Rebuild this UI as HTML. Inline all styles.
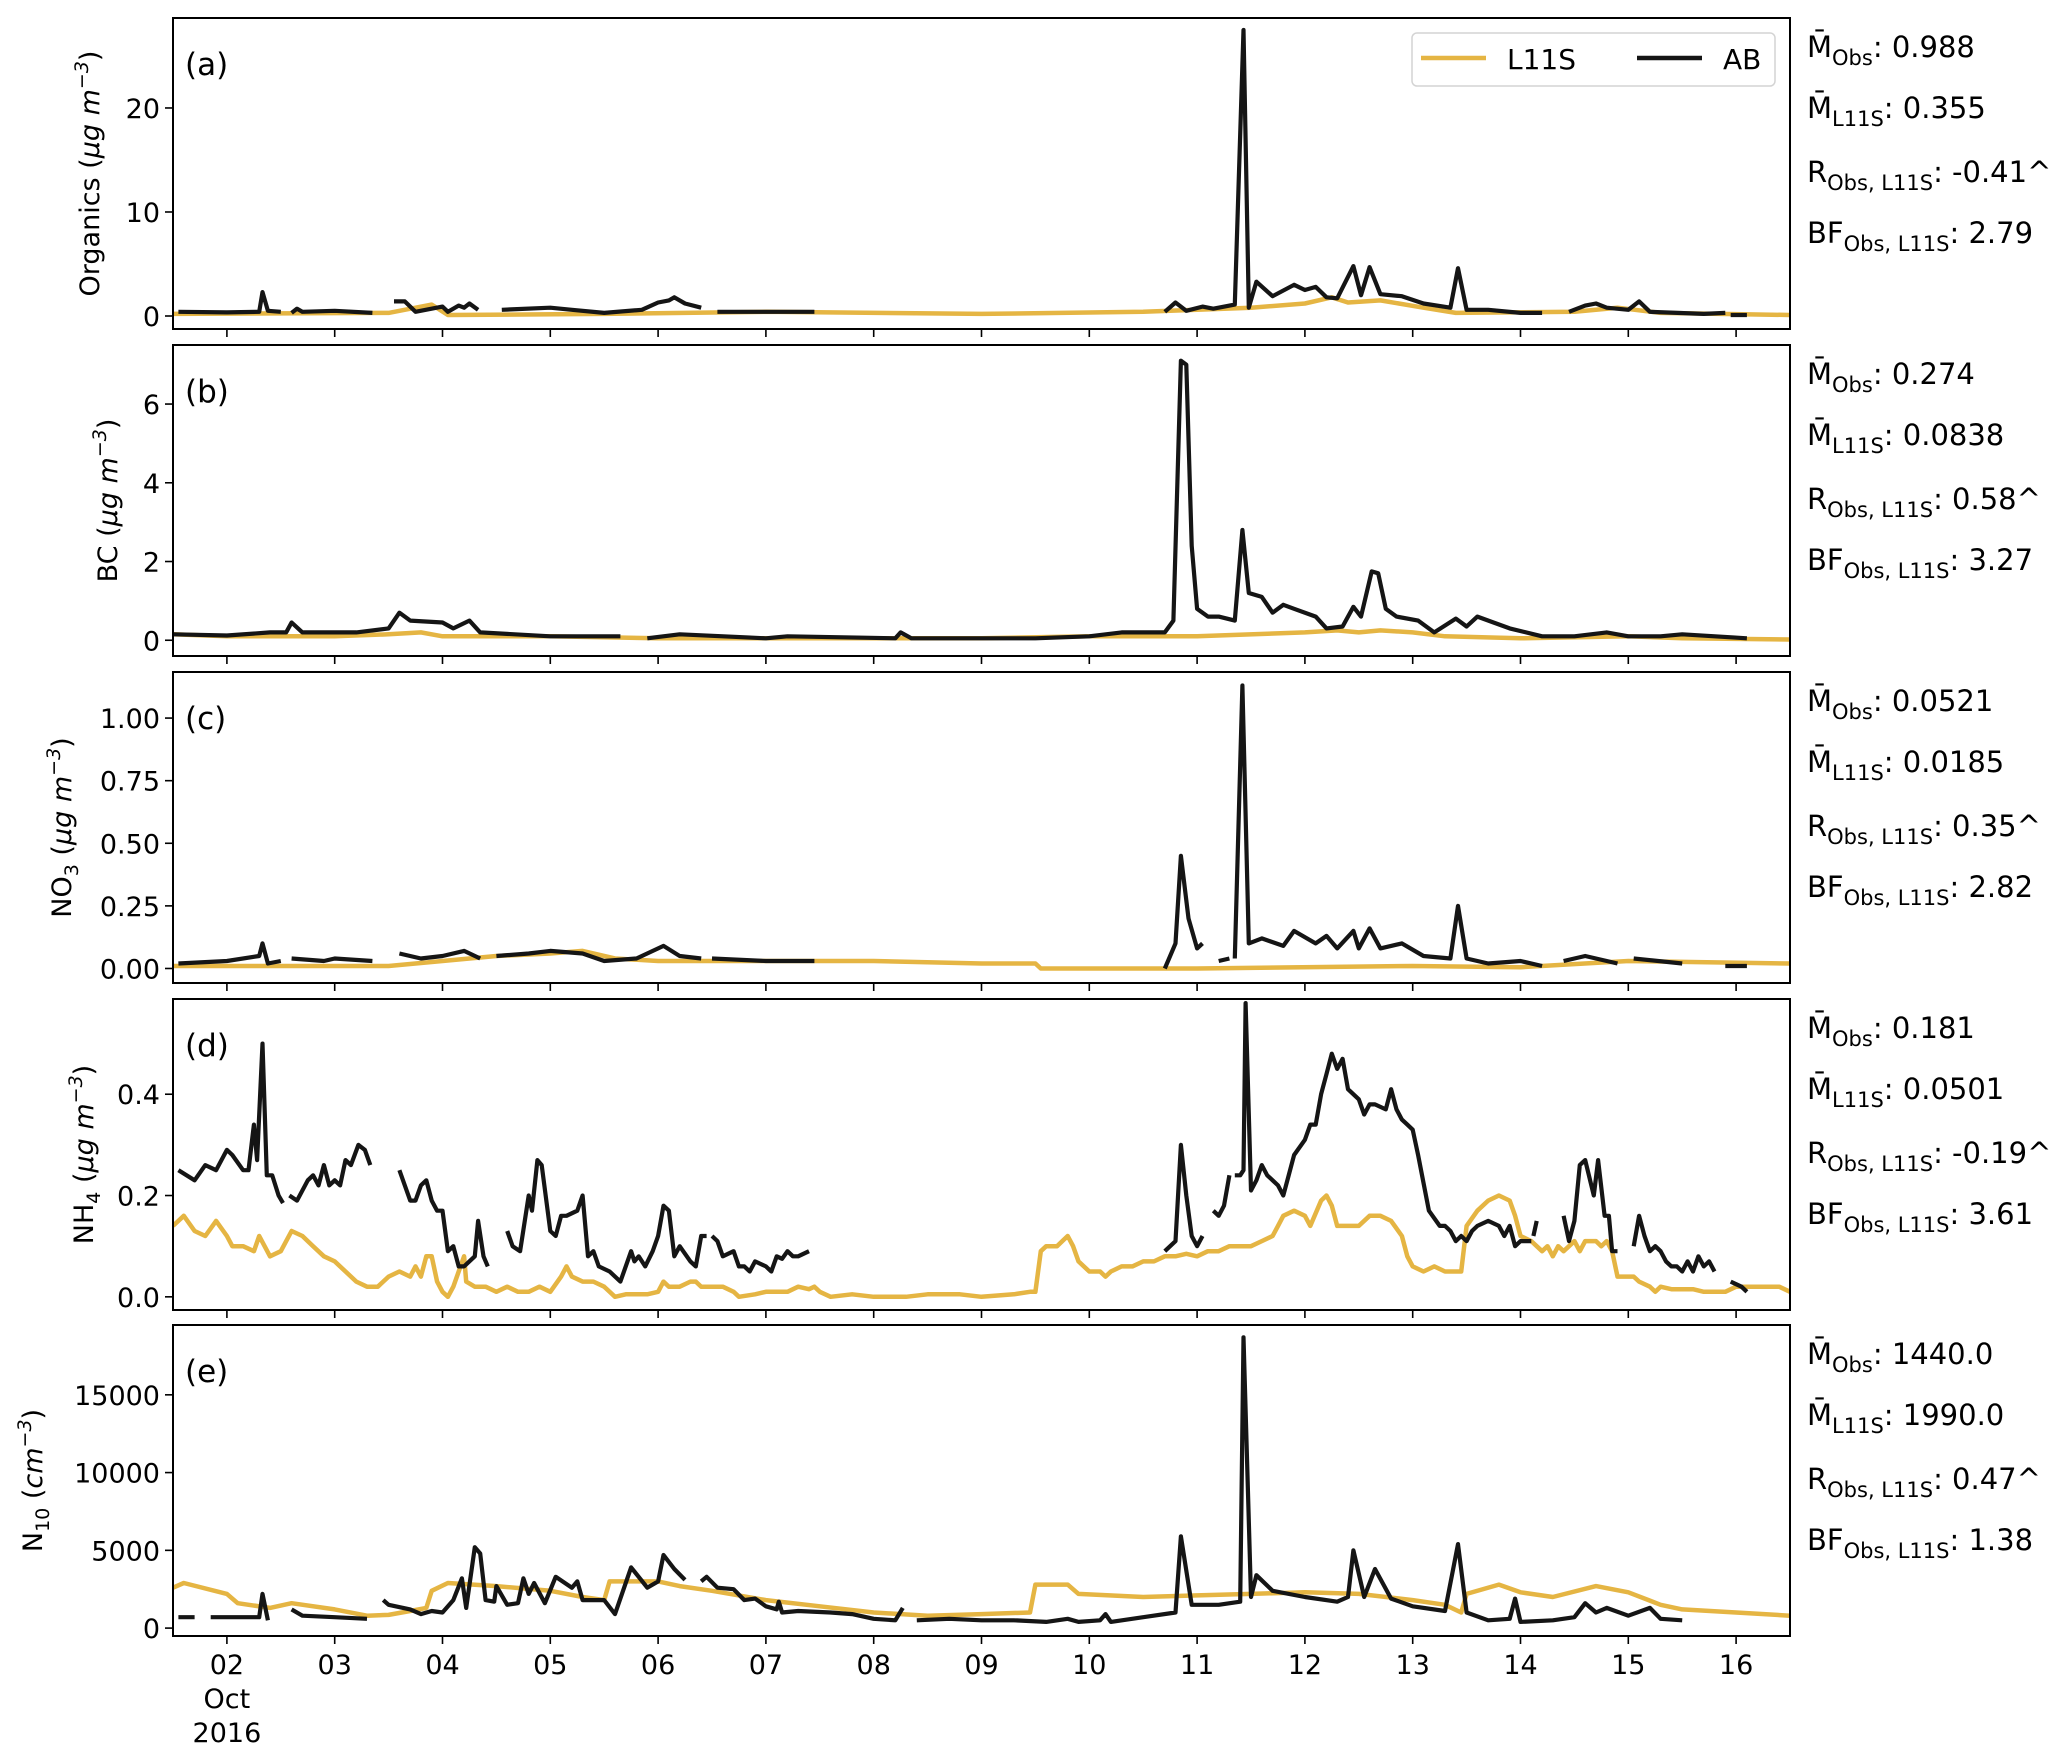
<!DOCTYPE html>
<html><head><meta charset="utf-8"><style>
html,body{margin:0;padding:0;background:#fff;}
svg text{font-family:"DejaVu Sans","Liberation Sans",sans-serif;fill:#000;}
</style></head><body>
<svg id="fig" xmlns="http://www.w3.org/2000/svg" width="2067" height="1757" viewBox="0 0 2067 1757">
<rect width="2067" height="1757" fill="#fff"/>
</svg>
<script>
const dayTicks = [2,3,4,5,6,7,8,9,10,11,12,13,14,15,16];
const dayLabels = ["02","03","04","05","06","07","08","09","10","11","12","13","14","15","16"];
const panelLetters = ["(a)","(b)","(c)","(d)","(e)"];
const yTicksA = [0,10,20];
const yTicksB = [0,2,4,6];
const yTicksC = [0,0.25,0.5,0.75,1.0];
const yTickLabelsC = ["0.00","0.25","0.50","0.75","1.00"];
const yTicksD = [0,0.2,0.4];
const yTickLabelsD = ["0.0","0.2","0.4"];
const yTicksE = [0,5000,10000,15000];
const yRangeA = [-1.25,28.65];
const yRangeB = [-0.4,7.5];
const yRangeC = [-0.058,1.184];
const yRangeD = [-0.026,0.588];
const yRangeE = [-508,19490];
const statsA = ["0.988","0.355","-0.41^","2.79"];
const statsB = ["0.274","0.0838","0.58^","3.27"];
const statsC = ["0.0521","0.0185","0.35^","2.82"];
const statsD = ["0.181","0.0501","-0.19^","3.61"];
const statsE = ["1440.0","1990.0","0.47^","1.38"];

// [day, value]; null = gap
const abA = [[1.55,0.4],[2.0,0.35],[2.3,0.4],[2.33,2.3],[2.38,0.5],[2.5,0.4],null,[2.6,0.3],[2.65,0.7],[2.7,0.4],[3.0,0.5],[3.35,0.3],null,[3.55,1.4],[3.65,1.4],[3.75,0.4],[4.0,0.9],[4.05,0.4],[4.15,1.0],[4.2,0.8],[4.25,1.2],[4.33,0.6],null,[4.55,0.6],[5.0,0.8],[5.2,0.6],[5.5,0.3],[5.85,0.6],[6.0,1.3],[6.1,1.5],[6.15,1.8],[6.25,1.2],[6.4,0.8],null,[6.55,0.4],[7.0,0.4],[7.45,0.4],null,[10.7,0.4],[10.8,1.3],[10.9,0.5],[11.05,0.9],[11.15,0.7],[11.35,1.1],[11.43,27.5],[11.48,0.8],[11.55,3.3],[11.7,1.9],[11.9,3.0],[12.0,2.5],[12.1,2.8],[12.2,1.8],[12.3,1.7],[12.45,4.8],[12.52,2.0],[12.6,4.7],[12.7,2.1],[12.9,1.9],[13.1,1.2],[13.35,0.8],[13.42,4.6],[13.5,0.6],[13.7,0.6],[14.0,0.3],[14.2,0.3],null,[14.45,0.4],[14.6,1.0],[14.7,1.2],[14.8,0.8],[15.0,0.6],[15.1,1.4],[15.2,0.4],[15.7,0.2],[15.9,0.3],null,[15.95,0.1],[16.1,0.1]];
const lA = [[1.5,0.2],[3.5,0.3],[3.9,1.1],[4.05,0.1],[5.5,0.2],[7,0.4],[9,0.2],[10.5,0.4],[11.5,0.8],[12.0,1.2],[12.25,1.8],[12.4,1.3],[12.7,1.5],[13.1,0.8],[13.4,0.3],[14.5,0.4],[14.9,0.8],[15.3,0.3],[16.5,0.1]];
const abB = [[1.5,0.15],[2.0,0.12],[2.4,0.2],[2.55,0.2],[2.6,0.45],[2.7,0.2],[3.2,0.2],[3.5,0.3],[3.6,0.7],[3.7,0.5],[4.0,0.45],[4.1,0.3],[4.25,0.5],[4.35,0.2],[5.0,0.1],[5.65,0.1],null,[5.9,0.05],[6.2,0.15],[7.0,0.05],[7.2,0.1],[8.2,0.05],[8.25,0.2],[8.35,0.05],[9.5,0.05],[10.0,0.1],[10.3,0.2],[10.7,0.2],[10.78,0.5],[10.85,7.1],[10.9,7.0],[10.95,2.4],[11.0,0.8],[11.1,0.6],[11.2,0.6],[11.35,0.5],[11.42,2.8],[11.48,1.2],[11.6,1.1],[11.7,0.7],[11.8,0.9],[11.9,0.8],[12.1,0.6],[12.2,0.3],[12.35,0.35],[12.45,0.85],[12.52,0.6],[12.62,1.75],[12.68,1.7],[12.75,0.8],[12.85,0.6],[13.05,0.5],[13.2,0.2],[13.4,0.55],[13.5,0.35],[13.6,0.6],[13.75,0.45],[13.9,0.3],[14.2,0.1],[14.5,0.1],[14.8,0.2],[15.0,0.1],[15.3,0.1],[15.5,0.15],[16.1,0.05]];
const lB = [[1.5,0.15],[2,0.1],[3.0,0.1],[3.5,0.15],[3.8,0.2],[4.0,0.1],[5.0,0.1],[6.0,0.05],[9,0.05],[10,0.1],[11,0.1],[12,0.2],[12.3,0.25],[12.5,0.2],[12.7,0.25],[13,0.2],[13.3,0.1],[14,0.05],[15,0.1],[15.5,0.05],[16.5,0.02]];
const abC = [[1.55,0.02],[2.0,0.03],[2.3,0.05],[2.33,0.1],[2.38,0.02],[2.5,0.03],null,[2.6,0.04],[2.9,0.03],[3.0,0.04],[3.35,0.03],null,[3.6,0.06],[3.8,0.04],[4.0,0.05],[4.2,0.07],[4.35,0.04],null,[4.5,0.05],[4.8,0.06],[5.0,0.07],[5.3,0.06],[5.5,0.03],[5.8,0.04],[6.05,0.09],[6.2,0.05],[6.4,0.04],null,[6.5,0.04],[7.0,0.03],[7.45,0.03],null,[10.7,0.0],[10.8,0.1],[10.85,0.45],[10.92,0.2],[11.0,0.08],[11.05,0.1],null,[11.2,0.03],[11.3,0.04],null,[11.35,0.04],[11.42,1.13],[11.48,0.1],[11.6,0.12],[11.8,0.09],[11.9,0.15],[12.1,0.1],[12.2,0.13],[12.3,0.08],[12.45,0.15],[12.5,0.08],[12.6,0.16],[12.7,0.08],[12.9,0.1],[13.1,0.05],[13.35,0.04],[13.42,0.25],[13.5,0.04],[13.7,0.02],[14.0,0.03],[14.2,0.01],null,[14.4,0.03],[14.6,0.05],[14.9,0.02],null,[15.05,0.04],[15.5,0.02],null,[15.9,0.01],[16.1,0.01]];
const lC = [[1.5,0.01],[3.5,0.01],[4.0,0.03],[4.5,0.05],[5.0,0.06],[5.3,0.07],[5.6,0.04],[6.0,0.03],[7.0,0.03],[8.0,0.03],[9.0,0.02],[9.5,0.02],[9.55,0.0],[11.0,0.0],[13.0,0.01],[14.0,0.005],[15.0,0.03],[16.5,0.02]];
const abD = [[1.55,0.25],[1.7,0.23],[1.8,0.26],[1.9,0.25],[2.0,0.29],[2.05,0.28],[2.15,0.25],[2.2,0.25],[2.25,0.34],[2.28,0.27],[2.33,0.5],[2.37,0.24],[2.42,0.24],[2.48,0.2],[2.52,0.185],null,[2.58,0.2],[2.65,0.19],[2.75,0.23],[2.8,0.24],[2.85,0.22],[2.9,0.26],[2.95,0.22],[3.0,0.23],[3.05,0.22],[3.1,0.27],[3.15,0.26],[3.22,0.3],[3.28,0.29],[3.33,0.26],null,[3.6,0.25],[3.7,0.19],[3.75,0.19],[3.8,0.22],[3.85,0.23],[3.9,0.19],[3.95,0.17],[4.0,0.17],[4.05,0.09],[4.1,0.1],[4.15,0.06],[4.2,0.06],[4.3,0.08],[4.33,0.15],[4.38,0.08],[4.42,0.06],null,[4.6,0.13],[4.65,0.1],[4.72,0.09],[4.8,0.2],[4.83,0.17],[4.88,0.27],[4.92,0.26],[5.0,0.13],[5.05,0.12],[5.1,0.16],[5.15,0.16],[5.25,0.17],[5.3,0.2],[5.35,0.08],[5.4,0.09],[5.45,0.06],[5.55,0.05],[5.65,0.03],[5.75,0.09],[5.78,0.07],[5.82,0.08],[5.88,0.06],[5.95,0.09],[6.0,0.12],[6.05,0.18],[6.1,0.17],[6.15,0.08],[6.2,0.1],[6.3,0.07],[6.35,0.06],[6.4,0.12],[6.45,0.12],null,[6.5,0.12],[6.55,0.11],[6.6,0.08],[6.7,0.09],[6.75,0.06],[6.8,0.06],[6.85,0.05],[6.9,0.07],[7.0,0.06],[7.05,0.05],[7.1,0.08],[7.15,0.075],[7.2,0.09],[7.25,0.08],[7.3,0.08],[7.4,0.09],null,[10.7,0.09],[10.8,0.11],[10.85,0.3],[10.9,0.2],[10.95,0.12],[11.0,0.1],[11.05,0.12],null,[11.15,0.17],[11.2,0.16],[11.25,0.18],[11.3,0.24],null,[11.35,0.24],[11.4,0.24],[11.43,0.25],[11.45,0.58],[11.5,0.21],[11.55,0.23],[11.6,0.26],[11.65,0.24],[11.7,0.23],[11.75,0.22],[11.8,0.2],[11.85,0.24],[11.9,0.28],[12.0,0.31],[12.05,0.34],[12.1,0.34],[12.15,0.4],[12.2,0.44],[12.25,0.48],[12.3,0.45],[12.35,0.47],[12.4,0.41],[12.5,0.39],[12.55,0.36],[12.6,0.38],[12.65,0.38],[12.75,0.37],[12.8,0.41],[12.85,0.37],[12.9,0.35],[12.95,0.34],[13.0,0.33],[13.05,0.28],[13.15,0.17],[13.25,0.14],[13.3,0.14],[13.35,0.13],[13.4,0.11],[13.45,0.12],[13.5,0.11],[13.55,0.13],[13.6,0.14],[13.7,0.15],[13.8,0.14],[13.85,0.12],[13.9,0.14],[13.95,0.1],[14.0,0.11],[14.05,0.11],[14.1,0.11],null,[14.12,0.12],[14.15,0.15],null,[14.4,0.16],[14.45,0.11],[14.5,0.15],[14.55,0.26],[14.6,0.27],[14.68,0.2],[14.72,0.27],[14.78,0.16],[14.82,0.16],[14.85,0.09],[14.9,0.09],null,[15.05,0.1],[15.1,0.16],[15.15,0.12],[15.2,0.09],[15.25,0.1],[15.3,0.09],[15.35,0.07],[15.4,0.06],[15.45,0.06],[15.5,0.05],[15.55,0.07],[15.6,0.05],[15.65,0.08],[15.7,0.06],[15.75,0.07],[15.8,0.05],null,[15.95,0.03],[16.0,0.025],[16.05,0.02],[16.1,0.01]];
const lD = [[1.5,0.14],[1.6,0.16],[1.7,0.13],[1.8,0.12],[1.9,0.15],[2.0,0.12],[2.05,0.1],[2.15,0.1],[2.25,0.09],[2.3,0.12],[2.4,0.08],[2.5,0.09],[2.6,0.13],[2.7,0.12],[2.8,0.1],[2.9,0.08],[3.0,0.07],[3.1,0.05],[3.2,0.03],[3.3,0.02],[3.4,0.02],[3.5,0.04],[3.6,0.05],[3.7,0.04],[3.75,0.06],[3.8,0.04],[3.85,0.08],[3.9,0.08],[3.95,0.03],[4.0,0.01],[4.05,0.0],[4.1,0.02],[4.2,0.08],[4.22,0.03],[4.3,0.02],[4.4,0.02],[4.5,0.01],[4.6,0.02],[4.7,0.01],[4.8,0.01],[4.9,0.02],[5.0,0.01],[5.1,0.04],[5.15,0.06],[5.2,0.04],[5.3,0.03],[5.4,0.03],[5.5,0.02],[5.55,0.01],[5.6,0.0],[5.7,0.005],[5.8,0.005],[5.9,0.005],[6.0,0.01],[6.05,0.03],[6.1,0.02],[6.2,0.02],[6.3,0.03],[6.35,0.03],[6.4,0.02],[6.5,0.02],[6.6,0.02],[6.7,0.01],[6.75,0.0],[6.9,0.005],[7.0,0.01],[7.1,0.01],[7.2,0.01],[7.3,0.02],[7.4,0.015],[7.45,0.02],[7.5,0.01],[7.6,0.0],[7.8,0.005],[8.0,0.0],[8.3,0.0],[8.5,0.005],[8.8,0.005],[9.0,0.0],[9.3,0.005],[9.45,0.01],[9.5,0.01],[9.55,0.09],[9.6,0.1],[9.7,0.1],[9.75,0.11],[9.8,0.12],[9.85,0.1],[9.9,0.07],[10.0,0.05],[10.1,0.05],[10.15,0.04],[10.2,0.05],[10.3,0.06],[10.4,0.06],[10.5,0.07],[10.6,0.07],[10.7,0.08],[10.8,0.08],[10.9,0.085],[11.0,0.08],[11.1,0.09],[11.2,0.09],[11.3,0.1],[11.4,0.1],[11.5,0.1],[11.6,0.11],[11.7,0.12],[11.75,0.14],[11.8,0.16],[11.9,0.17],[12.0,0.16],[12.05,0.14],[12.15,0.19],[12.2,0.2],[12.25,0.18],[12.3,0.14],[12.4,0.14],[12.5,0.14],[12.6,0.16],[12.7,0.16],[12.8,0.15],[12.9,0.12],[12.95,0.08],[13.0,0.06],[13.1,0.05],[13.2,0.06],[13.3,0.05],[13.4,0.05],[13.45,0.05],[13.5,0.14],[13.6,0.17],[13.7,0.19],[13.8,0.2],[13.9,0.19],[13.95,0.16],[14.0,0.12],[14.1,0.11],[14.2,0.09],[14.25,0.1],[14.3,0.08],[14.35,0.1],[14.4,0.09],[14.45,0.1],[14.5,0.11],[14.55,0.09],[14.6,0.11],[14.7,0.11],[14.75,0.1],[14.8,0.11],[14.85,0.09],[14.9,0.04],[15.0,0.04],[15.05,0.04],[15.1,0.03],[15.2,0.02],[15.25,0.01],[15.3,0.02],[15.4,0.015],[15.5,0.015],[15.6,0.015],[15.7,0.01],[15.8,0.01],[15.9,0.01],[16.0,0.02],[16.1,0.02],[16.2,0.02],[16.3,0.02],[16.4,0.02],[16.5,0.01]];
const abE = [[1.55,700],[1.7,700],null,[1.85,700],[2.3,700],[2.33,2200],[2.38,500],null,[2.6,1200],[2.7,800],[3.0,700],[3.3,600],null,[3.45,1800],[3.5,1500],[3.7,1200],[3.8,900],[3.9,1100],[4.0,1000],[4.1,1800],[4.18,3200],[4.22,1300],[4.3,5200],[4.35,4800],[4.4,1800],[4.48,1700],[4.5,2700],[4.6,1500],[4.7,1600],[4.75,3200],[4.8,2200],[4.85,2900],[4.95,1600],[5.05,3300],[5.2,2600],[5.25,3000],[5.3,1800],[5.5,1800],[5.6,900],[5.75,3900],[5.9,2600],[6.0,3000],[6.05,4700],[6.15,3800],[6.25,3100],null,[6.4,3000],[6.45,3300],[6.55,2600],[6.7,2500],[6.8,1800],[6.9,1900],[7.0,1400],[7.1,1200],[7.12,1700],[7.15,1000],[7.3,1100],[7.6,1000],[7.8,900],[8.0,600],[8.2,500],[8.27,1300],null,[8.4,500],[8.7,600],[9.0,500],[9.3,500],[9.6,400],[9.8,600],[9.9,400],[10.1,500],[10.15,900],[10.2,400],[10.5,700],[10.8,1000],[10.85,5900],[10.95,1500],[11.2,1500],[11.4,1700],[11.43,18700],[11.5,2000],[11.55,3400],[11.7,2400],[12.0,2000],[12.3,1700],[12.4,2000],[12.45,5000],[12.55,2000],[12.65,3800],[12.8,1900],[13.0,1400],[13.3,1100],[13.42,5400],[13.5,1000],[13.7,500],[13.9,600],[13.95,1900],[14.0,400],[14.3,500],[14.5,700],[14.6,1600],[14.7,1000],[14.8,1300],[15.0,800],[15.2,1300],[15.3,600],[15.5,500]];
const lE = [[1.5,2600],[1.6,2900],[2.0,2200],[2.1,1600],[2.4,1300],[2.6,1600],[3.0,1200],[3.3,800],[3.5,850],[3.7,1100],[3.85,1300],[3.9,2400],[4.05,2900],[4.5,2700],[5.0,2400],[5.3,2000],[5.5,1800],[5.55,3000],[6.0,3000],[6.2,2700],[6.5,2400],[7.0,1800],[7.5,1400],[8.0,1000],[8.5,800],[9.0,900],[9.45,1000],[9.5,2800],[9.8,2800],[9.9,2200],[10.5,2000],[11.0,2100],[11.5,2200],[12.0,2300],[12.5,2200],[13.0,1800],[13.3,1500],[13.45,1000],[13.5,2200],[13.8,2800],[14.0,2300],[14.3,2000],[14.7,2700],[15.0,2300],[15.3,1500],[15.5,1200],[16.0,1000],[16.5,800]];

const NS = "http://www.w3.org/2000/svg";
const svg = document.getElementById('fig');
const X0 = 173, X1 = 1790, D0 = 1.5, D1 = 16.5;
const tops = [18,345,672,999,1325], PH = 311;
const ylabX = [99, 117, 71, 93, 42];
function xs(d){ return X0 + (d - D0) / (D1 - D0) * (X1 - X0); }
function mk(tag, attrs, parent){ const e = document.createElementNS(NS, tag); for (const k in attrs) e.setAttribute(k, attrs[k]); (parent||svg).appendChild(e); return e; }
function pathFrom(pts, ys){ let d = "", pen = false; for (const p of pts){ if (p === null){ pen = false; continue; } d += (pen ? "L" : "M") + xs(p[0]).toFixed(1) + "," + ys(p[1]).toFixed(1); pen = true; } return d; }

const panels = [
 {ab:abA,l:lA,range:yRangeA,ticks:yTicksA,labels:yTicksA.map(String),stats:statsA},
 {ab:abB,l:lB,range:yRangeB,ticks:yTicksB,labels:yTicksB.map(String),stats:statsB},
 {ab:abC,l:lC,range:yRangeC,ticks:yTicksC,labels:yTickLabelsC,stats:statsC,sym:['NO','3']},
 {ab:abD,l:lD,range:yRangeD,ticks:yTicksD,labels:yTickLabelsD,stats:statsD,sym:['NH','4']},
 {ab:abE,l:lE,range:yRangeE,ticks:yTicksE,labels:yTicksE.map(String),stats:statsE,sym:['N','10']}
];
const names = ['organics','bc','no3','nh4','n10'];

panels.forEach((p, i) => {
  const top = tops[i], bot = top + PH;
  const ys = v => bot - (v - p.range[0]) / (p.range[1] - p.range[0]) * PH;
  const g = mk('g', {});
  
  
  const cid = 'clip' + i;
  const cp = mk('clipPath', {id: cid}, g);
  mk('rect', {x: X0, y: top, width: X1 - X0, height: PH}, cp);
  const lp = mk('path', {d: pathFrom(p.l, ys), fill: 'none', stroke: '#e5b543', 'stroke-width': 4.5, 'stroke-linejoin': 'round', 'clip-path': 'url(#' + cid + ')'}, g);
  
  
  const ap = mk('path', {d: pathFrom(p.ab, ys), fill: 'none', stroke: '#151515', 'stroke-width': 4.2, 'stroke-linejoin': 'round', 'clip-path': 'url(#' + cid + ')'}, g);
  
  
  const fr = mk('rect', {x: X0, y: top, width: X1 - X0, height: PH, fill: 'none', stroke: '#000', 'stroke-width': 2}, g);
  
  
  p.ticks.forEach((t, k) => {
    const y = ys(t);
    mk('line', {x1: X0 - 8, x2: X0, y1: y, y2: y, stroke: '#000', 'stroke-width': 1.6}, g);
    const tx = mk('text', {x: X0 - 13, y: y + 10, 'font-size': 27, 'text-anchor': 'end'}, g);
    tx.textContent = p.labels[k];
    
    
  });
  dayTicks.forEach(d => { mk('line', {x1: xs(d), x2: xs(d), y1: bot, y2: bot + 8, stroke: '#000', 'stroke-width': 1.6}, g); });
  const pl = mk('text', {x: 185, y: top + 57, 'font-size': 31}, g);
  pl.textContent = panelLetters[i];
  
  
  const cy = top + PH / 2;
  const yl = mk('text', {x: 0, y: 0, 'font-size': 27, 'text-anchor': 'middle', transform: 'translate(' + ylabX[i] + ',' + cy + ') rotate(-90)'}, g);
  
  
  const s1 = document.createElementNS(NS, 'tspan');
  if (i < 2){
    s1.textContent = (i === 0 ? 'Organics' : 'BC') + ' (';
    yl.appendChild(s1);
  } else {
    s1.textContent = p.sym[0]; yl.appendChild(s1);
    const sub = document.createElementNS(NS, 'tspan'); sub.setAttribute('dy', 7); sub.setAttribute('font-size', 19); sub.textContent = p.sym[1]; yl.appendChild(sub);
    const bk = document.createElementNS(NS, 'tspan'); bk.setAttribute('dy', -7); bk.textContent = ' ('; yl.appendChild(bk);
  }
  const it = document.createElementNS(NS, 'tspan'); it.setAttribute('font-style', 'italic'); it.textContent = (i === 4 ? 'cm' : 'µg m'); yl.appendChild(it);
  const sp = document.createElementNS(NS, 'tspan'); sp.setAttribute('dy', -11); sp.setAttribute('font-size', 19); sp.setAttribute('font-style', 'italic'); sp.textContent = '−3'; yl.appendChild(sp);
  const cl = document.createElementNS(NS, 'tspan'); cl.setAttribute('dy', 11); cl.textContent = ')'; yl.appendChild(cl);
  const sub1 = ['Obs','L11S','Obs, L11S','Obs, L11S'];
  const pre = ['M̄','M̄','R','BF'];
  const offs = [39, 100, 164, 225];
  for (let k = 0; k < 4; k++){
    const st = mk('text', {x: 1807, y: top + offs[k], 'font-size': 29}, g);
    
    
    const a = document.createElementNS(NS, 'tspan'); a.textContent = pre[k]; st.appendChild(a);
    const b = document.createElementNS(NS, 'tspan'); b.setAttribute('dy', 8); b.setAttribute('font-size', 21); b.textContent = sub1[k]; st.appendChild(b);
    const c = document.createElementNS(NS, 'tspan'); c.setAttribute('dy', -8); c.textContent = ': ' + p.stats[k]; st.appendChild(c);
  }
});

const bot5 = tops[4] + PH;
dayTicks.forEach((d, k) => {
  const t = mk('text', {x: xs(d), y: bot5 + 38, 'font-size': 27, 'text-anchor': 'middle'});
  t.textContent = dayLabels[k];
  
  
});
const oc = mk('text', {x: xs(2), y: bot5 + 72, 'font-size': 27, 'text-anchor': 'middle'}); oc.textContent = 'Oct';


const yr = mk('text', {x: xs(2), y: bot5 + 106, 'font-size': 27, 'text-anchor': 'middle'}); yr.textContent = '2016';



const lg = mk('g', {});


mk('rect', {x: 1412, y: 33, width: 363, height: 53, rx: 5, fill: '#fff', 'fill-opacity': 0.85, stroke: '#d4d4d4', 'stroke-width': 1.5}, lg);
const le1 = mk('line', {x1: 1421, x2: 1486, y1: 58, y2: 58, stroke: '#e5b543', 'stroke-width': 4.5}, lg);


const lt1 = mk('text', {x: 1507, y: 69, 'font-size': 28}, lg); lt1.textContent = 'L11S';
const le2 = mk('line', {x1: 1637, x2: 1702, y1: 58, y2: 58, stroke: '#151515', 'stroke-width': 4.5}, lg);


const lt2 = mk('text', {x: 1723, y: 69, 'font-size': 28}, lg); lt2.textContent = 'AB';
</script>
</body></html>
